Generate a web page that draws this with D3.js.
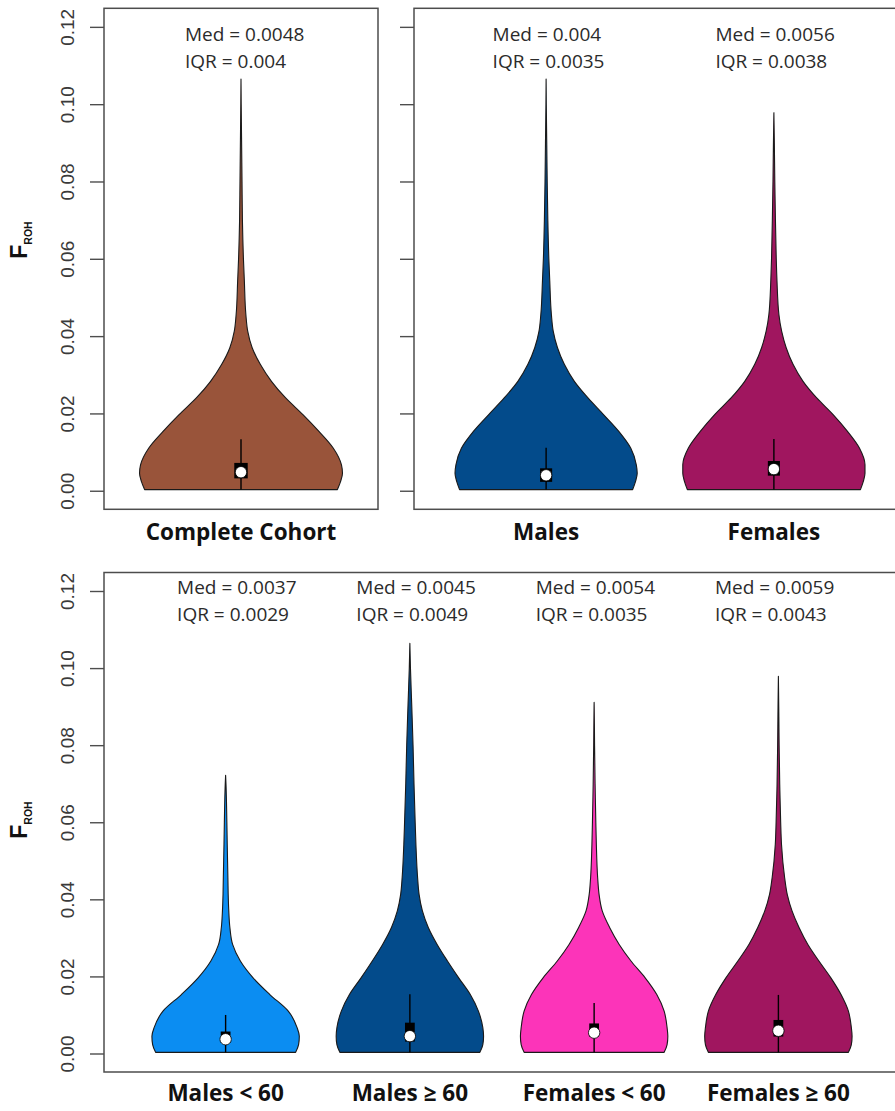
<!DOCTYPE html>
<html>
<head>
<meta charset="utf-8">
<script src="https://cdn.jsdelivr.net/npm/d3@7"></script>
<style>
  html, body { margin: 0; padding: 0; background: #fff; }
  svg { display: block; }
</style>
</head>
<body>
<svg id="chart" width="895" height="1111"></svg>
<script>
// ---- Data ----------------------------------------------------------------
const categories = ["Complete Cohort", "Males", "Females",
                    "Males < 60", "Males \u2265 60", "Females < 60", "Females \u2265 60"];
const medians  = [0.0048, 0.004, 0.0056, 0.0037, 0.0045, 0.0054, 0.0059];
const iqrs     = [0.004, 0.0035, 0.0038, 0.0029, 0.0049, 0.0035, 0.0043];
const q1s      = [0.0032, 0.0023, 0.0039, 0.0028, 0.0031, 0.0043, 0.0044];
const q3s      = [0.0072, 0.0058, 0.0077, 0.0057, 0.0080, 0.0078, 0.0087];
const whiskerHi = [0.0133, 0.0111, 0.0134, 0.0100, 0.0154, 0.0131, 0.0152];
const minima   = [0.0003, 0.0003, 0.0003, 0.0003, 0.0003, 0.0003, 0.0003];
const maxima   = [0.1065, 0.1065, 0.0978, 0.0722, 0.1064, 0.0911, 0.0979];

// F_ROH levels at which the violin half-width (relative to its widest point) is given
const densityLevels = [0.0004, 0.0023, 0.0045, 0.0067, 0.011, 0.0153, 0.0197, 0.024, 0.0283,
                       0.0327, 0.037, 0.0413, 0.0456, 0.0543, 0.06, 0.07, 0.08, 0.09, 0.10];
const densityComplete   = [0.95, 0.98, 1.0, 0.99, 0.91, 0.77, 0.61, 0.44, 0.30, 0.19, 0.11, 0.066, 0.048, 0.033, 0.024, 0.014, 0.010, 0.006, 0.002];
const densityMales      = [0.95, 0.98, 1.0, 0.99, 0.93, 0.80, 0.63, 0.46, 0.31, 0.20, 0.125, 0.078, 0.058, 0.040, 0.030, 0.019, 0.012, 0.007, 0.002];
const densityFemales    = [0.95, 0.98, 1.0, 1.0, 0.94, 0.81, 0.65, 0.47, 0.32, 0.21, 0.135, 0.085, 0.055, 0.034, 0.026, 0.017, 0.010, 0.005];
const densityMalesU60   = [0.95, 0.99, 1.0, 0.97, 0.85, 0.60, 0.37, 0.20, 0.095, 0.058, 0.043, 0.035, 0.031, 0.022, 0.017, 0.005];
const densityMalesO60   = [0.95, 0.99, 1.0, 0.99, 0.93, 0.82, 0.66, 0.51, 0.37, 0.25, 0.17, 0.125, 0.105, 0.082, 0.072, 0.056, 0.043, 0.026, 0.008];
const densityFemalesU60 = [0.95, 0.99, 1.0, 0.99, 0.95, 0.85, 0.69, 0.50, 0.34, 0.21, 0.11, 0.067, 0.048, 0.030, 0.023, 0.013, 0.006, 0.001];
const densityFemalesO60 = [0.95, 0.99, 1.0, 0.99, 0.95, 0.85, 0.71, 0.55, 0.40, 0.28, 0.185, 0.12, 0.085, 0.042, 0.031, 0.018, 0.010, 0.005];
const densities = [densityComplete, densityMales, densityFemales,
                   densityMalesU60, densityMalesO60, densityFemalesU60, densityFemalesO60];

const colors = ["#99543a", "#034b8b", "#a0165f", "#0b8df2", "#034b8b", "#fc34b9", "#a0165f"];
const yTicks = [0, 0.02, 0.04, 0.06, 0.08, 0.10, 0.12];

// ---- Layout -----------------------------------------------------------------
const panels = [
  { groups: [0],          x: [104, 378], y: [509.3, 8.3],  tickLabels: true,  titleY: 240 },
  { groups: [1, 2],       x: [414, 906], y: [509.3, 8.3],  tickLabels: false },
  { groups: [3, 4, 5, 6], x: [104, 900], y: [1072, 572.5], tickLabels: true,  titleY: 820 }
];
const catLabelY = [540, 1101];

const svg = d3.select("#chart");
const frameColor = "#4d4d4d";
const textFont = "'Open Sans', sans-serif";

panels.forEach((p, pi) => {
  const n = p.groups.length;
  const pad = 0.04 * n;
  const x = d3.scaleLinear().domain([0.5 - pad, n + 0.5 + pad]).range(p.x);
  const ext = 0.12 * 0.04;
  const y = d3.scaleLinear().domain([-ext, 0.12 + ext]).range(p.y);
  const unit = x(2) - x(1);
  const g = svg.append("g");

  p.groups.forEach((gi, k) => {
    const cx = x(k + 1);
    const halfMax = 0.4 * unit;

    // violin outline from the density profile
    const dens = densities[gi];
    const pts = [[minima[gi], dens[0]]];
    for (let j = 1; j < dens.length; j++) {
      if (densityLevels[j] < maxima[gi]) pts.push([densityLevels[j], dens[j]]);
    }
    pts.push([maxima[gi], 0]);
    const area = d3.area()
      .y(d => y(d[0]))
      .x0(d => cx - d[1] * halfMax)
      .x1(d => cx + d[1] * halfMax)
      .curve(d3.curveMonotoneY);
    g.append("path")
      .attr("d", area(pts))
      .attr("fill", colors[gi])
      .attr("stroke", "#1a1a1a")
      .attr("stroke-width", 1.1)
      .attr("stroke-linejoin", "round");

    // whisker
    g.append("line")
      .attr("x1", cx).attr("x2", cx)
      .attr("y1", y(minima[gi])).attr("y2", y(whiskerHi[gi]))
      .attr("stroke", "#000").attr("stroke-width", 1.4);
    // IQR box
    const bw = 0.053 * unit;
    g.append("rect")
      .attr("x", cx - bw / 2).attr("width", bw)
      .attr("y", y(q3s[gi])).attr("height", y(q1s[gi]) - y(q3s[gi]))
      .attr("fill", "#000");
    // median
    g.append("circle")
      .attr("cx", cx).attr("cy", y(medians[gi]))
      .attr("r", 5.7)
      .attr("fill", "#fff").attr("stroke", "#000").attr("stroke-width", 0.8);

    // median / IQR annotation
    const tx = cx - 56 - (k - (n - 1) / 2) * 5;
    const ty = pi < 2 ? 41 : 594;
    g.append("text")
      .attr("x", tx).attr("y", ty)
      .attr("font-family", textFont).attr("font-size", 19)
      .attr("fill", "#2b2b2b")
      .text("Med = " + String(medians[gi]));
    g.append("text")
      .attr("x", tx).attr("y", ty + 26.5)
      .attr("font-family", textFont).attr("font-size", 19)
      .attr("fill", "#2b2b2b")
      .text("IQR = " + String(iqrs[gi]));

    // category label
    g.append("text")
      .attr("x", cx).attr("y", pi < 2 ? catLabelY[0] : catLabelY[1])
      .attr("text-anchor", "middle")
      .attr("font-family", textFont).attr("font-size", 22.5)
      .attr("font-weight", 700).attr("fill", "#111")
      .text(categories[gi]);
  });

  // frame
  g.append("rect")
    .attr("x", p.x[0]).attr("y", p.y[1])
    .attr("width", p.x[1] - p.x[0]).attr("height", p.y[0] - p.y[1])
    .attr("fill", "none").attr("stroke", frameColor).attr("stroke-width", 1.5);

  // y axis
  const axis = d3.axisLeft(y).tickValues(yTicks).tickSize(14).tickPadding(0)
    .tickFormat(p.tickLabels ? d3.format(".2f") : () => "");
  const ag = g.append("g").attr("transform", `translate(${p.x[0]},0)`).call(axis);
  ag.select(".domain").remove();
  ag.selectAll(".tick line").attr("stroke", frameColor).attr("stroke-width", 1.4);
  ag.selectAll(".tick text")
    .attr("font-family", "'Liberation Sans', Arial, sans-serif")
    .attr("font-size", 19)
    .attr("fill", "#3a3a3a")
    .attr("text-anchor", "middle")
    .attr("x", null).attr("dy", null)
    .attr("transform", "translate(-30,0) rotate(-90)");

  // axis title F_ROH
  if (p.tickLabels) {
    const t = svg.append("text")
      .attr("transform", `translate(27,${p.titleY}) rotate(-90)`)
      .attr("text-anchor", "middle")
      .attr("font-family", "'Liberation Sans', Arial, sans-serif")
      .attr("font-weight", 700).attr("fill", "#111");
    t.append("tspan").attr("font-size", 23).text("F");
    t.append("tspan").attr("font-size", 10.5).attr("dy", 5).text("ROH");
  }
});
</script>
</body>
</html>
